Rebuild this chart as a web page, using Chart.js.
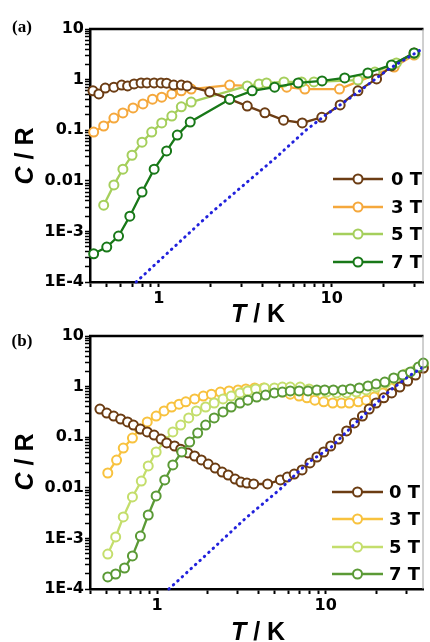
<!DOCTYPE html>
<html>
<head>
<meta charset="utf-8">
<script src="https://cdn.jsdelivr.net/npm/chart.js@4.4.0/dist/chart.umd.min.js"></script>
<style>
  body { margin: 0; background: #fff; width: 430px; height: 642px; position: relative; overflow: hidden; }
  canvas { position: absolute; left: 0; }
  #ca { top: 0; }
  #cb { top: 321px; }
  .lab { position: absolute; font: bold 17px "Liberation Serif", "Times New Roman", serif; line-height: 1; transform: translate(-50%, -50%); }
  .ttl { position: absolute; font: bold 25px "Liberation Sans", Arial, sans-serif; line-height: 1; white-space: nowrap; transform: translate(-50%, -50%); }
  .rot { transform: translate(-50%, -50%) rotate(-90deg); }
</style>
</head>
<body>
<canvas id="ca" width="430" height="321"></canvas>
<canvas id="cb" width="430" height="321"></canvas>
<div class="lab" style="left:22px;top:26px">(a)</div>
<div class="lab" style="left:22px;top:340px">(b)</div>
<div class="ttl rot" style="left:24px;top:156px"><i>C</i> / R</div>
<div class="ttl rot" style="left:24px;top:462px"><i>C</i> / R</div>
<div class="ttl" style="left:258px;top:313px"><i>T</i> / K</div>
<div class="ttl" style="left:258px;top:631px"><i>T</i> / K</div>
<script>
// panel (a)
const tA0 = [0.416, 0.45, 0.49, 0.55, 0.61, 0.66, 0.72, 0.79, 0.855, 0.94, 1.03, 1.11, 1.22, 1.35, 1.46, 1.97, 2.57, 3.25, 4.11, 5.27, 6.76, 8.77, 11.2, 14.2, 18.2, 22.2, 30];
const cA0 = [0.60, 0.52, 0.68, 0.71, 0.78, 0.75, 0.82, 0.86, 0.86, 0.86, 0.86, 0.85, 0.78, 0.78, 0.75, 0.57, 0.41, 0.30, 0.22, 0.158, 0.139, 0.18, 0.315, 0.60, 1.03, 1.86, 3.36];
const tA3 = [0.42, 0.48, 0.55, 0.62, 0.71, 0.81, 0.92, 1.04, 1.19, 1.35, 1.54, 2.57, 5.5, 7.0, 11.1, 23, 30];
const cA3 = [0.092, 0.121, 0.174, 0.219, 0.275, 0.33, 0.41, 0.45, 0.52, 0.60, 0.65, 0.78, 0.71, 0.65, 0.65, 1.77, 3.06];
const tA5 = [0.48, 0.55, 0.62, 0.70, 0.80, 0.91, 1.04, 1.19, 1.35, 1.54, 3.25, 3.8, 4.2, 5.3, 6.7, 7.9, 14.2, 17.8, 23.7, 30.4];
const cA5 = [0.0033, 0.0083, 0.017, 0.032, 0.058, 0.092, 0.139, 0.19, 0.29, 0.36, 0.75, 0.82, 0.86, 0.90, 0.90, 0.90, 0.98, 1.41, 2.13, 3.2];
const tA7 = [0.42, 0.50, 0.585, 0.68, 0.80, 0.94, 1.11, 1.28, 1.52, 2.57, 3.47, 4.68, 6.4, 8.8, 11.9, 16.2, 22.2, 30];
const cA7 = [3.6e-4, 4.9e-4, 8.1e-4, 2.0e-3, 6.0e-3, 0.017, 0.039, 0.080, 0.145, 0.41, 0.60, 0.71, 0.86, 0.94, 1.08, 1.35, 1.95, 3.36];
const tALat = [0.74, 2.0, 4.8, 7.1, 9.25, 14.0, 21, 33.3];
const cALat = [1e-4, 2.3e-3, 0.0295, 0.10, 0.20, 0.54, 1.55, 4.0];

// panel (b)
const tB0 = [0.458, 0.503, 0.553, 0.608, 0.668, 0.724, 0.796, 0.874, 0.96, 1.055, 1.14, 1.27, 1.38, 1.52, 1.67, 1.83, 2.01, 2.21, 2.43, 2.64, 2.90, 3.14, 3.41, 3.74, 4.52, 5.38, 5.92, 6.50, 7.24, 8.06, 8.86, 9.73, 10.7, 11.9, 13.3, 14.8, 16.5, 18.1, 19.9, 22.1, 24.6, 27.5, 30.6, 34.1, 37.9];
const cB0 = [0.36, 0.30, 0.262, 0.229, 0.20, 0.174, 0.145, 0.127, 0.110, 0.092, 0.077, 0.067, 0.058, 0.049, 0.0425, 0.0355, 0.0295, 0.0246, 0.0205, 0.0179, 0.0149, 0.013, 0.0124, 0.0119, 0.0119, 0.0143, 0.0163, 0.0187, 0.0225, 0.031, 0.0406, 0.051, 0.067, 0.092, 0.133, 0.191, 0.262, 0.36, 0.474, 0.60, 0.75, 0.98, 1.29, 1.69, 2.33];
const tB3 = [0.51, 0.575, 0.63, 0.714, 0.785, 0.874, 0.987, 1.10, 1.22, 1.35, 1.48, 1.67, 1.88, 2.10, 2.37, 2.67, 3.02, 3.36, 3.79, 4.28, 4.90, 5.53, 6.16, 6.95, 7.74, 8.62, 9.73, 11.0, 12.4, 13.8, 15.6, 17.4, 19.4, 21.8, 24.3, 27.1, 30.6, 34.1, 37.9];
const cB3 = [0.0196, 0.0354, 0.061, 0.096, 0.145, 0.20, 0.262, 0.33, 0.395, 0.45, 0.50, 0.57, 0.65, 0.71, 0.78, 0.82, 0.86, 0.90, 0.94, 0.94, 0.86, 0.78, 0.71, 0.65, 0.60, 0.54, 0.50, 0.474, 0.474, 0.474, 0.50, 0.54, 0.62, 0.75, 0.94, 1.18, 1.48, 1.86, 2.33];
const tB5 = [0.51, 0.568, 0.63, 0.714, 0.806, 0.886, 0.987, 1.11, 1.24, 1.38, 1.54, 1.71, 1.94, 2.18, 2.46, 2.75, 3.10, 3.45, 3.84, 4.34, 4.96, 5.53, 6.16, 7.05, 7.96, 8.86, 10.1, 11.6, 13.3, 15.2, 17.4, 19.9, 22.7, 26.0, 29.8, 34.1, 37.9];
const cB5 = [4.9e-4, 1.07e-3, 2.65e-3, 6.6e-3, 0.0136, 0.027, 0.051, 0.084, 0.127, 0.174, 0.24, 0.33, 0.395, 0.474, 0.57, 0.65, 0.75, 0.82, 0.90, 0.94, 0.94, 0.98, 0.98, 0.98, 0.90, 0.82, 0.78, 0.75, 0.75, 0.78, 0.86, 0.98, 1.18, 1.41, 1.77, 2.13, 2.67];
const tB7 = [0.51, 0.568, 0.641, 0.714, 0.796, 0.886, 0.987, 1.11, 1.24, 1.40, 1.56, 1.74, 1.94, 2.18, 2.46, 2.75, 3.10, 3.45, 3.90, 4.40, 4.96, 5.53, 6.16, 6.95, 7.85, 8.86, 9.86, 11.1, 12.6, 14.0, 15.8, 17.8, 19.9, 22.4, 25.3, 28.6, 31.8, 35.5, 37.9];
const cB7 = [1.73e-4, 1.98e-4, 2.6e-4, 4.5e-4, 1.11e-3, 2.9e-3, 6.9e-3, 0.0143, 0.0283, 0.051, 0.080, 0.121, 0.174, 0.24, 0.315, 0.395, 0.474, 0.54, 0.62, 0.68, 0.75, 0.78, 0.82, 0.82, 0.82, 0.86, 0.86, 0.86, 0.86, 0.90, 0.94, 1.03, 1.12, 1.23, 1.48, 1.69, 1.95, 2.44, 2.92];
const tBLat = [1.175, 2.10, 3.36, 5.31, 7.05, 8.28, 10.8, 14.2, 18.6, 24.3, 31.8, 37.9];
const cBLat = [1e-4, 5.9e-4, 2.53e-3, 9.1e-3, 0.0225, 0.0354, 0.064, 0.159, 0.378, 0.86, 1.69, 2.44];

const fieldNames = ['0 T', '3 T', '5 T', '7 T'];

// ticks
const xTickVals = [0.4, 0.5, 0.6, 0.7, 0.8, 0.9, 1, 2, 3, 4, 5, 6, 7, 8, 9, 10, 20, 30];
const xLabelVals = [1, 10];
const xLabelText = ['1', '10'];
const yLabelVals = [10, 1, 0.1, 0.01, 0.001, 0.0001];
const yLabelText = ['10', '1', '0.1', '0.01', '1E-3', '1E-4'];

const yTickVals = [];
for (let e = -4; e <= 0; e++) {
  for (let m = 1; m <= 9; m++) yTickVals.push(Number((m * Math.pow(10, e)).toPrecision(3)));
}
yTickVals.push(10);

function labelFor(v, vals, text) {
  const i = vals.findIndex(w => Math.abs(Math.log10(v) - Math.log10(w)) < 1e-6);
  return i < 0 ? '' : text[i];
}

function pts(T, C) {
  return T.map((t, i) => ({ x: t, y: C[i] }));
}

const tickFont = { family: 'DejaVu Sans', weight: 'bold', size: 16 };

function scales(xmax, xAxisH) {
  return {
    x: {
      type: 'logarithmic', min: 0.4, max: xmax,
      afterBuildTicks: s => { s.ticks = xTickVals.filter(v => v <= xmax).map(v => ({ value: v })); },
      afterFit: s => { s.height = xAxisH; },
      ticks: { autoSkip: false, maxRotation: 0, padding: 2, color: '#000', font: tickFont,
               callback: v => labelFor(v, xLabelVals, xLabelText) },
      grid: { drawOnChartArea: false, tickLength: 5, tickColor: '#000', tickWidth: 2 },
      border: { color: '#000', width: 2.5 }
    },
    y: {
      type: 'logarithmic', min: 1e-4, max: 10,
      afterBuildTicks: s => { s.ticks = yTickVals.map(v => ({ value: v })); },
      afterFit: s => { s.width = 90; },
      ticks: { autoSkip: false, padding: 1, color: '#000', font: tickFont,
               callback: v => labelFor(v, yLabelVals, yLabelText) },
      grid: { drawOnChartArea: false, tickLength: 5, tickColor: '#000', tickWidth: 1.5 },
      border: { color: '#000', width: 2.5 }
    }
  };
}

// legend inside plot, bottom right
const insideLegend = {
  id: 'insideLegend',
  afterDatasetsDraw(chart, args, o) {
    const ctx = chart.ctx;
    const items = chart.data.datasets.filter(d => d.label);
    ctx.save();
    items.forEach((d, i) => {
      const y = o.rows[i];
      ctx.strokeStyle = d.borderColor;
      ctx.lineWidth = 2.5;
      ctx.beginPath(); ctx.moveTo(o.x1, y); ctx.lineTo(o.x2, y); ctx.stroke();
      ctx.beginPath(); ctx.arc((o.x1 + o.x2) / 2, y, 4.5, 0, Math.PI * 2);
      ctx.fillStyle = '#fff'; ctx.fill(); ctx.lineWidth = 2; ctx.stroke();
      ctx.fillStyle = '#000';
      ctx.font = 'bold 18px "DejaVu Sans"';
      ctx.textBaseline = 'middle';
      ctx.fillText(d.label, o.tx, y + 1);
    });
    ctx.restore();
  }
};

// top black line, thin grey right line
const frame = {
  id: 'frame',
  afterDraw(chart) {
    const { ctx, chartArea: a } = chart;
    ctx.save();
    ctx.strokeStyle = '#000'; ctx.lineWidth = 2.5;
    ctx.beginPath(); ctx.moveTo(a.left - 1, a.top); ctx.lineTo(a.right, a.top); ctx.stroke();
    ctx.strokeStyle = '#a0a0a0'; ctx.lineWidth = 1;
    ctx.beginPath(); ctx.moveTo(a.right - 0.5, a.top); ctx.lineTo(a.right - 0.5, a.bottom); ctx.stroke();
    ctx.restore();
  }
};

function series(label, T, C, color, order) {
  return {
    label, data: pts(T, C), showLine: true, order,
    borderColor: color, borderWidth: 2.3,
    pointRadius: 4.5, pointBorderWidth: 2, pointBackgroundColor: '#fff', pointBorderColor: color,
    clip: 8
  };
}

function lattice(T, C) {
  return {
    label: '', data: pts(T, C), showLine: true, order: 0,
    borderColor: '#2121dc', borderWidth: 3, borderDash: [0.5, 5.5], borderCapStyle: 'round',
    pointRadius: 0, clip: 8
  };
}

function makeChart(id, sets, xmax, pad, xAxisH, leg) {
  new Chart(document.getElementById(id), {
    type: 'scatter',
    data: { datasets: sets },
    options: {
      responsive: false, animation: false, events: [],
      layout: { padding: pad },
      scales: scales(xmax, xAxisH),
      plugins: { legend: { display: false }, tooltip: { enabled: false }, insideLegend: leg }
    },
    plugins: [insideLegend, frame]
  });
}

makeChart('ca', [
  series(fieldNames[0], tA0, cA0, '#6c3d14', 2),
  series(fieldNames[1], tA3, cA3, '#f5a83c', 4),
  series(fieldNames[2], tA5, cA5, '#a5cf5c', 3),
  series(fieldNames[3], tA7, cA7, '#187818', 1),
  lattice(tALat, cALat)
], 34, { top: 29, right: 1, left: 0, bottom: 0 }, 39,
  { x1: 333, x2: 383, tx: 391, rows: [179, 207, 234, 262] });

makeChart('cb', [
  series(fieldNames[0], tB0, cB0, '#6b3c12', 2),
  series(fieldNames[1], tB3, cB3, '#f8c23e', 4),
  series(fieldNames[2], tB5, cB5, '#c4de6c', 3),
  series(fieldNames[3], tB7, cB7, '#5b9a36', 1),
  lattice(tBLat, cBLat)
], 38, { top: 15, right: 1, left: 0, bottom: 0 }, 53,
  { x1: 332, x2: 383, tx: 389, rows: [171, 198, 226, 253] });
</script>
</body>
</html>
